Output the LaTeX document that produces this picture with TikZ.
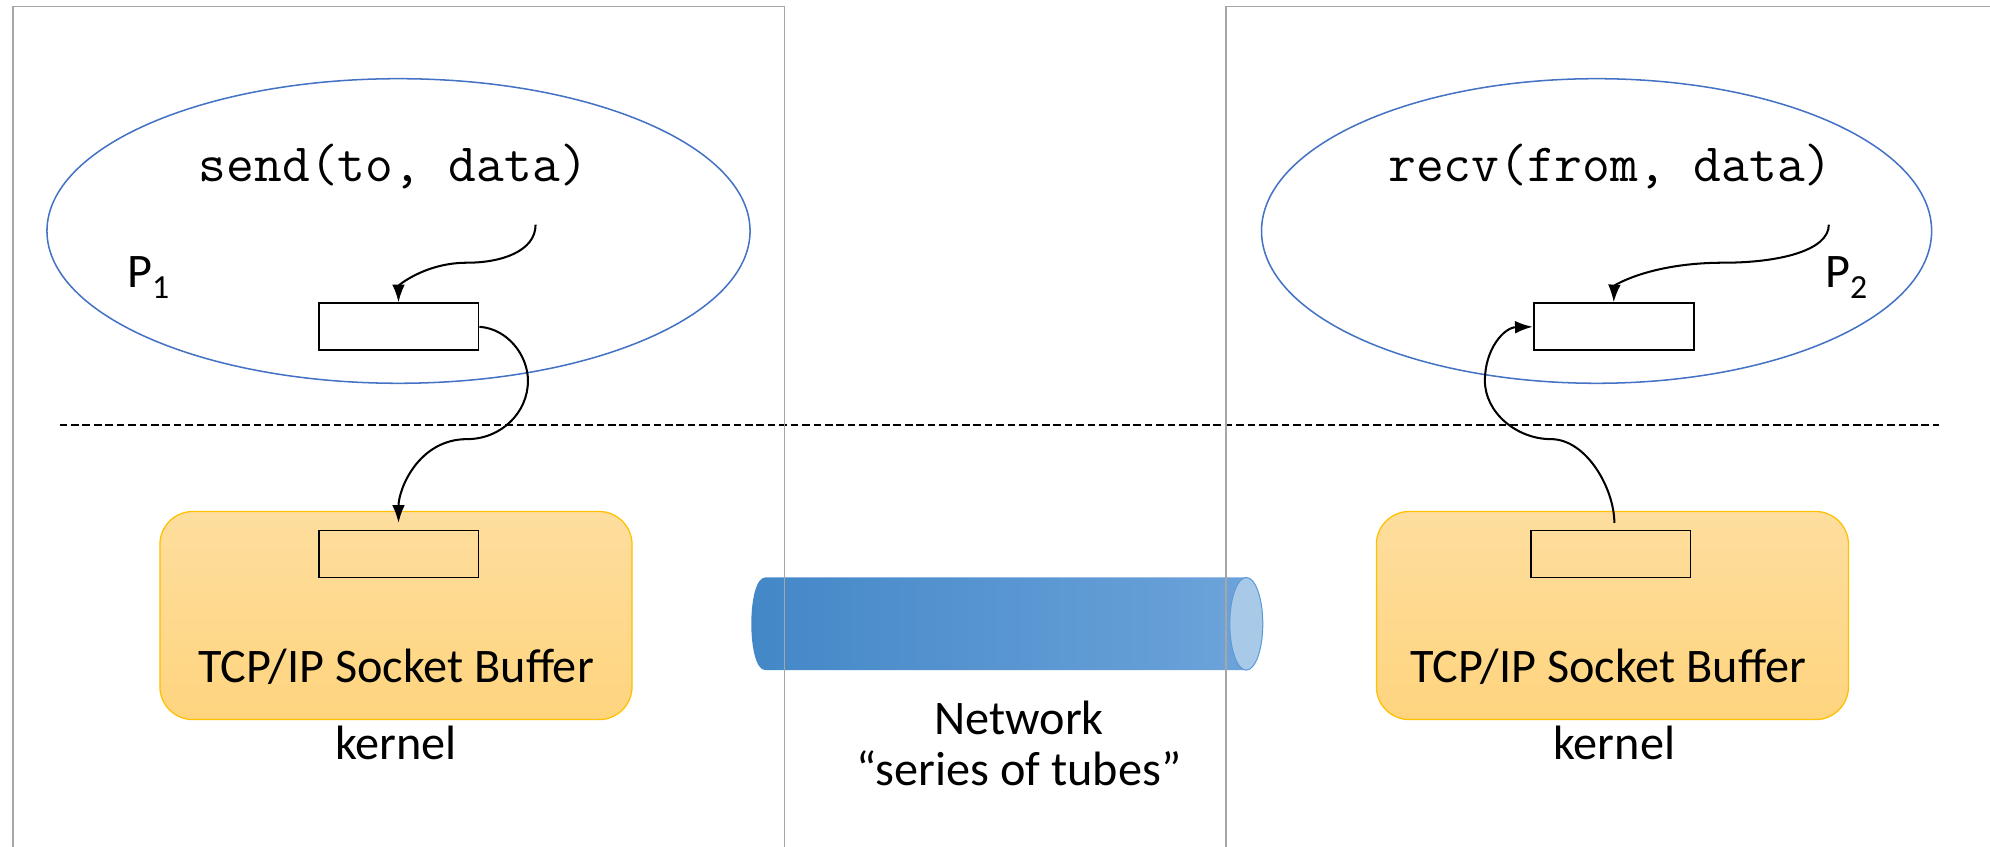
\documentclass[tikz,border=0pt]{standalone}
\usepackage{fontspec}
\setmainfont{Carlito}
\usetikzlibrary{arrows.meta,shapes.geometric}
\definecolor{ellblue}{HTML}{4472C4}
\definecolor{framegray}{HTML}{A6A6A6}
\definecolor{kerntop}{HTML}{FEDE9E}
\definecolor{kernbot}{HTML}{FED47E}
\definecolor{kernborder}{HTML}{FFC000}
\definecolor{tubeleft}{HTML}{4387C7}
\definecolor{tuberight}{HTML}{6CA3DA}
\definecolor{tubecap}{HTML}{A9C9E9}
\definecolor{tubeline}{HTML}{5B9BD5}
\begin{document}
\begin{tikzpicture}[x=1pt,y=-1pt,
  proc/.style={ellipse,draw=ellblue,line width=1.2pt,inner sep=0pt},
  buf/.style={rectangle,draw=black,line width=1.5pt,minimum width=126pt,minimum height=37pt,inner sep=0pt},
  kern/.style={rectangle,rounded corners=26pt,top color=kerntop,bottom color=kernbot,draw=kernborder,line width=1pt,minimum width=372pt,minimum height=164pt,inner sep=0pt},
  label/.style={font=\fontsize{38}{40}\selectfont,inner sep=0pt,align=center},
  code/.style={font=\fontsize{42.5}{44}\selectfont\ttfamily,inner sep=0pt},
  flow/.style={line width=1.6pt,-{Latex[length=14pt,width=10pt]}},
  frame/.style={draw=framegray,line width=1.3pt}]
\useasboundingbox (0,0) rectangle (1568,667);
% network tube
\shade[left color=tubeleft,right color=tuberight] (982,455) -- (603,455) .. controls (588.3,455) and (588.3,528) .. (603,528) -- (982,528) -- cycle;
\node[ellipse,fill=tubecap,draw=tubeline,line width=0.8pt,minimum width=26pt,minimum height=73pt,inner sep=0pt] (tubeend) at (982,491.5) {};
\node[label] (net) at (803,586) {Network\\``series of tubes''};
% process ellipses
\node[proc,minimum width=554pt,minimum height=240pt] (p1) at (314,182) {};
\node[proc,minimum width=528pt,minimum height=240pt] (p2) at (1258,182) {};
\node[code] (send) at (310,131) {send(to, data)};
\node[code] (recv) at (1269,131) {recv(from, data)};
\node[label] (p1lab) at (117,219) {P\textsubscript{1}};
\node[label] (p2lab) at (1455,219) {P\textsubscript{2}};
\node[buf,fill=white] (ub1) at (314,257.5) {};
\node[buf,fill=white] (ub2) at (1271.5,257.5) {};
% kernel boxes
\node[kern] (k1) at (312,485) {};
\node[kern] (k2) at (1270.5,485) {};
\node[buf] (kb1) at (314,436.5) {};
\node[buf] (kb2) at (1269,436.5) {};
\node[label] (k1txt) at (312,525) {TCP/IP Socket Buffer};
\node[label] (k2txt) at (1267,525) {TCP/IP Socket Buffer};
\node[label] (k1lab) at (312,585) {kernel};
\node[label] (k2lab) at (1272,585) {kernel};
% boundary
\draw[line width=1.8pt,dash pattern=on 6pt off 3pt] (47,335) -- (1528,335);
% arrows
\coordinate (s1) at (422,177);
\coordinate (s2) at (1441,177);
\coordinate (t3) at (314,412);
\coordinate (s4) at (1272,412);
\draw[flow] (s1) .. controls (422,198) and (395,207) .. (368,207) .. controls (335,207) and (314,225) .. (ub1.north);
\draw[flow] (s2) .. controls (1441,198) and (1400,207) .. (1358,207) .. controls (1300,207) and (1272,225) .. (ub2.north);
\draw[flow] (ub1.east) .. controls (400,259) and (416,280) .. (416,300) .. controls (416,325) and (395,346) .. (368,346) .. controls (330,346) and (314,385) .. (t3);
\draw[flow] (s4) .. controls (1272,385) and (1250,346) .. (1222,346) .. controls (1195,346) and (1170,325) .. (1170,300) .. controls (1170,275) and (1185,258) .. (ub2.west);
% frames
\draw[frame] (10,667) -- (10,5) -- (618,5) -- (618,667);
\draw[frame] (966,667) -- (966,5) -- (1568,5);
\end{tikzpicture}
\end{document}
